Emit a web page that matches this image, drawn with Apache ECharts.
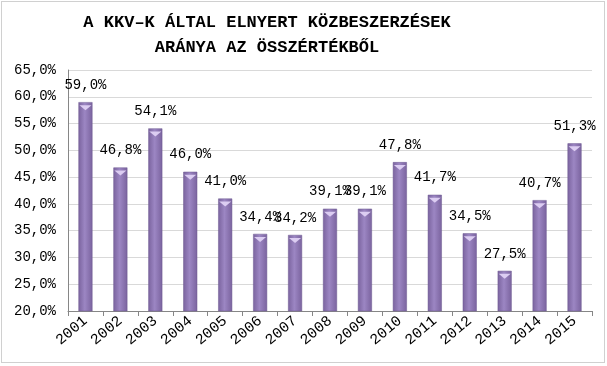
<!DOCTYPE html>
<html>
<head>
<meta charset="utf-8">
<script src="https://cdn.jsdelivr.net/npm/echarts@6/dist/echarts.min.js"></script>
<style>
  html, body { margin: 0; padding: 0; background: #fff; }
  #chart { width: 607px; height: 366px; }
  .frame { position: absolute; left: 1px; top: 1px; width: 602px; height: 360px; border: 1px solid #d0d0d0; pointer-events: none; }
</style>
</head>
<body>
<div id="chart"></div>
<div class="frame"></div>
<script>
const years = ['2001', '2002', '2003', '2004', '2005', '2006', '2007', '2008', '2009', '2010', '2011', '2012', '2013', '2014', '2015']
const shares = [59.0, 46.8, 54.1, 46.0, 41.0, 34.4, 34.2, 39.1, 39.1, 47.8, 41.7, 34.5, 27.5, 40.7, 51.3]
const titleLines = ['A KKV–K ÁLTAL ELNYERT KÖZBESZERZÉSEK', 'ARÁNYA AZ ÖSSZÉRTÉKBŐL']

const fmt = v => v.toFixed(1).replace('.', ',') + '%'
const font = '"Liberation Mono", "Courier New", monospace'

const myChart = echarts.init(document.getElementById('chart'))
const option = {
  animation: false,
  title: {
    text: titleLines.join('\n'),
    left: 262,
    textAlign: 'center',
    top: 5,
    textStyle: { fontFamily: font, fontSize: 17, fontWeight: 'bold', color: '#000', lineHeight: 25, align: 'center' }
  },
  grid: { left: 68, right: 15, top: 70, bottom: 55 },
  xAxis: {
    type: 'category',
    data: years,
    axisLine: { lineStyle: { color: '#868686' } },
    axisTick: { show: true, length: 5, lineStyle: { color: '#868686' } },
    axisLabel: { rotate: 40, fontFamily: font, fontSize: 15, color: '#000', margin: 8 }
  },
  yAxis: {
    type: 'value',
    min: 20,
    max: 65,
    interval: 5,
    axisLine: { show: true, lineStyle: { color: '#868686' } },
    axisTick: { show: false },
    splitLine: { lineStyle: { color: '#d9d9d9' } },
    axisLabel: { formatter: v => fmt(v), fontFamily: font, fontSize: 14, color: '#000', margin: 12 }
  },
  series: [{
    type: 'bar',
    data: shares,
    barWidth: 14,
    itemStyle: {
      color: new echarts.graphic.LinearGradient(0, 0, 1, 0, [
        { offset: 0, color: '#7a639e' },
        { offset: 0.45, color: '#9c86c3' },
        { offset: 1, color: '#7a639e' }
      ]),
      borderColor: '#6d5890',
      borderWidth: 0.5
    },
    label: {
      show: true,
      position: 'top',
      distance: 10,
      formatter: p => fmt(p.value),
      fontFamily: font,
      fontSize: 14,
      color: '#000'
    }
  }, {
    // light cap on top of each bar
    type: 'pictorialBar',
    data: shares,
    symbol: 'triangle',
    symbolRotate: 180,
    symbolPosition: 'end',
    symbolSize: [12, 5],
    symbolOffset: [0, 3],
    barGap: '-100%',
    z: 3,
    itemStyle: { color: '#dccdf2' },
    silent: true
  }]
}
myChart.setOption(option)
</script>
</body>
</html>
